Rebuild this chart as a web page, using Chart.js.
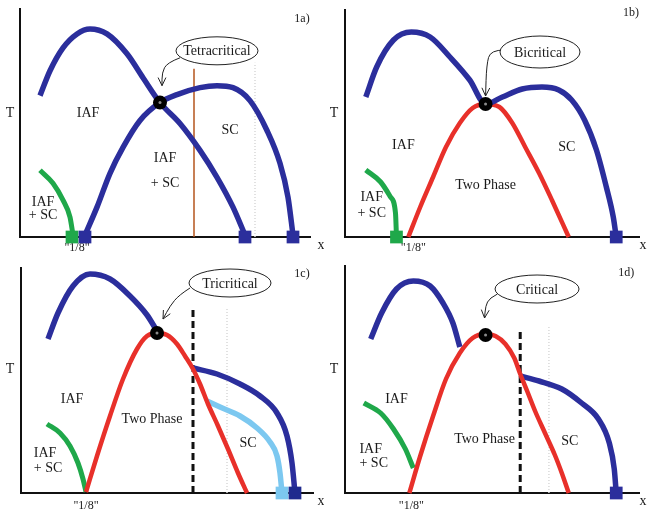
<!DOCTYPE html>
<html>
<head>
<meta charset="utf-8">
<script src="https://cdn.jsdelivr.net/npm/chart.js@4.4.0/dist/chart.umd.min.js"></script>
<style>
body { margin: 0; background: #fff; width: 648px; height: 513px; position: relative; overflow: hidden; }
canvas { position: absolute; }
</style>
</head>
<body>
<canvas id="p1a" width="324" height="256" style="left:0;top:0"></canvas>
<canvas id="p1b" width="324" height="256" style="left:324px;top:0"></canvas>
<canvas id="p1c" width="324" height="257" style="left:0;top:256px"></canvas>
<canvas id="p1d" width="324" height="257" style="left:324px;top:256px"></canvas>
<script>
// schematic phase boundaries, [x, T] pairs (arbitrary units, origin at the axes)

// 1a) tetracritical
const a_iaf = [[20,142],[30,167],[43,190],[57,204],[70,209],[87,204],[107,184],[123,160],[140,135],[160,114],[180,87],[197,60],[213,30],[225,2]];
const a_sc = [[65,2],[77,30],[90,64],[103,90],[120,117],[140,135],[157,143],[180,150],[197,152],[213,150],[230,137],[247,107],[260,74],[268,40],[273,2]];
const a_green = [[20,67],[33,54],[43,37],[50,20],[53,2]];
const a_endsBlue = [[65,0],[225,0],[273,0]];
const a_endsGreen = [[52,0]];
const a_point = [[140,135]];
const a_cut = [[174,0],[174,169]];
const a_faint = [[235,0],[235,175]];

// 1b) bicritical
const b_blue = [[21,140],[32,170],[49,197],[67,205],[86,200],[106,180],[126,157],[142,133],[159,140],[179,148],[199,150],[216,147],[229,137],[242,117],[254,87],[264,50],[271,20],[274,0]];
const b_red = [[64,0],[76,30],[89,60],[102,90],[116,114],[129,129],[142,133],[156,130],[169,114],[182,90],[196,64],[209,37],[226,0]];
const b_green = [[21,67],[36,55],[46,40],[51,24],[52,0]];
const b_endsBlue = [[274,0]];
const b_endsGreen = [[52,0]];
const b_point = [[142,133]];

// 1c) tricritical
const c_blue = [[27,154],[37,180],[52,207],[69,219],[89,214],[109,197],[126,178],[136,162]];
const c_red = [[65,1],[76,37],[89,77],[102,114],[116,144],[126,157],[136,160],[146,158],[156,149],[164,137],[172,124],[179,109],[187,89],[197,67],[207,44],[217,20],[226,0]];
const c_sc = [[172,125],[196,119],[219,109],[239,97],[256,80],[266,57],[271,30],[274,0]];
const c_light = [[186,92],[199,86],[219,77],[236,65],[249,51],[256,37],[259,20],[261,0]];
const c_green = [[26,69],[39,60],[49,47],[57,30],[62,14],[65,1]];
const c_endsBlue = [[274,0]];
const c_endsLight = [[261,0]];
const c_point = [[136,160]];
const c_cut = [[172,0],[172,185]];
const c_faint = [[206,0],[206,185]];

// 1d) critical
const d_blue = [[26,154],[37,180],[52,204],[69,212],[86,207],[99,190],[109,170],[116,146]];
const d_red = [[65,0],[76,37],[89,77],[102,114],[116,140],[129,155],[142,159],[152,157],[162,149],[171,135],[177,119],[184,102],[192,82],[202,60],[212,38],[219,20],[226,0]];
const d_sc = [[177,117],[196,112],[219,104],[239,90],[256,74],[267,50],[272,24],[274,0]];
const d_green = [[19,90],[36,80],[49,64],[61,44],[69,25]];
const d_endsBlue = [[274,0]];
const d_point = [[142,158]];
const d_cut = [[177,0],[177,164]];
const d_faint = [[206,0],[206,167]];

const BLUE = '#2b2e9c', RED = '#e8302a', GREEN = '#1fa84a', LIGHT = '#7cc8f0', INK = '#1a1a1a';
const SERIF = '"Liberation Serif", "DejaVu Serif", serif';

const pts = arr => arr.map(([x, y]) => ({x, y}));

function line(data, color, width, extra) {
    return Object.assign({
        data: pts(data), showLine: true, borderColor: color, borderWidth: width,
        pointRadius: 0, cubicInterpolationMode: 'monotone', fill: false,
        borderCapStyle: 'butt', borderJoinStyle: 'round', clip: false
    }, extra || {});
}
function straight(data, color, width, dash) {
    return line(data, color, width, {cubicInterpolationMode: 'default', tension: 0, borderDash: dash || []});
}
function marks(data, color, style, r) {
    return {data: pts(data), showLine: false, pointStyle: style, pointRadius: r,
        backgroundColor: color, borderColor: color, borderWidth: 0, clip: false};
}
function dot(data) {
    return [marks(data, '#8a8a8a', 'circle', 1.5), marks(data, '#000', 'circle', 7)];
}

function overlay(p) {
    return {
        id: 'overlay',
        beforeDatasetsDraw(chart) {
            const {ctx, scales: {x, y}} = chart;
            ctx.save();
            ctx.fillStyle = INK;
            ctx.textAlign = 'center';
            ctx.textBaseline = 'middle';
            p.labels.forEach(l => {
                ctx.font = (l.size || 14) + 'px ' + SERIF;
                ctx.fillText(l.t, x.getPixelForValue(l.x), y.getPixelForValue(l.y));
            });
            ctx.restore();
        },
        afterDatasetsDraw(chart) {
            const {ctx, scales: {x, y}} = chart;
            const c = p.callout;
            const tp = c.tail.map(([a, b]) => [x.getPixelForValue(a), y.getPixelForValue(b)]);
            ctx.save();
            ctx.strokeStyle = '#222';
            ctx.lineWidth = 1;
            // curved tail
            ctx.beginPath();
            ctx.moveTo(tp[0][0], tp[0][1]);
            for (let i = 1; i < tp.length - 1; i++) {
                const mx = (tp[i][0] + tp[i + 1][0]) / 2, my = (tp[i][1] + tp[i + 1][1]) / 2;
                ctx.quadraticCurveTo(tp[i][0], tp[i][1], mx, my);
            }
            const tip = tp[tp.length - 1], prev = tp[tp.length - 2];
            ctx.lineTo(tip[0], tip[1]);
            ctx.stroke();
            // open arrow head
            const ang = Math.atan2(tip[1] - prev[1], tip[0] - prev[0]);
            ctx.beginPath();
            [-0.45, 0.45].forEach(d => {
                ctx.moveTo(tip[0], tip[1]);
                ctx.lineTo(tip[0] - 9 * Math.cos(ang + d), tip[1] - 9 * Math.sin(ang + d));
            });
            ctx.stroke();
            // bubble
            const cx = x.getPixelForValue(c.at[0]), cy = y.getPixelForValue(c.at[1]);
            ctx.beginPath();
            ctx.ellipse(cx, cy, c.rx, c.ry, 0, 0, Math.PI * 2);
            ctx.fillStyle = '#fff';
            ctx.fill();
            ctx.stroke();
            ctx.fillStyle = INK;
            ctx.font = '14px ' + SERIF;
            ctx.textAlign = 'center';
            ctx.textBaseline = 'middle';
            ctx.fillText(c.text, cx, cy + 1);
            ctx.restore();
        }
    };
}

function axis(max, fit) {
    return {
        type: 'linear', min: 0, max: max,
        grid: {display: false, drawTicks: false},
        ticks: {display: false},
        border: {display: true, color: '#111', width: 2},
        afterFit: fit
    };
}

function panel(id, p) {
    new Chart(document.getElementById(id), {
        type: 'scatter',
        data: {datasets: p.datasets},
        options: {
            responsive: false,
            animation: false,
            events: [],
            layout: {padding: p.pad},
            plugins: {legend: {display: false}, tooltip: {enabled: false}},
            scales: {
                x: axis(p.xMax, s => { s.height = 0; }),
                y: axis(p.yMax, s => { s.width = 0; })
            }
        },
        plugins: [overlay(p)]
    });
}

panel('p1a', {
    pad: {left: 20, top: 8, right: 14, bottom: 19}, xMax: 290, yMax: 229,
    datasets: [
        ...dot(a_point),
        marks(a_endsBlue, BLUE, 'rect', 9),
        marks(a_endsGreen, GREEN, 'rect', 9),
        line(a_iaf, BLUE, 5.5),
        line(a_sc, BLUE, 5.5),
        line(a_green, GREEN, 5),
        straight(a_cut, '#b5551d', 1.5),
        straight(a_faint, '#d8d8d8', 1.5, [1, 2])
    ],
    labels: [
        {t: 'T', x: -10, y: 124}, {t: 'x', x: 301, y: -8}, {t: '1a)', x: 282, y: 219, size: 12},
        {t: 'IAF', x: 68, y: 124}, {t: 'SC', x: 210, y: 107},
        {t: 'IAF', x: 145, y: 79}, {t: '+ SC', x: 145, y: 54},
        {t: 'IAF', x: 23, y: 35}, {t: '+ SC', x: 23, y: 22},
        {t: '"1/8"', x: 57, y: -11, size: 12}
    ],
    callout: {text: 'Tetracritical', at: [197, 187], rx: 41, ry: 14,
        tail: [[160, 180], [147, 175], [142, 165], [142, 152]]}
});

panel('p1b', {
    pad: {left: 21, top: 10, right: 6, bottom: 19}, xMax: 297, yMax: 227,
    datasets: [
        ...dot(b_point),
        marks(b_endsBlue, BLUE, 'rect', 9),
        marks(b_endsGreen, GREEN, 'rect', 9),
        line(b_blue, BLUE, 5.5),
        line(b_red, RED, 4.5),
        line(b_green, GREEN, 5)
    ],
    labels: [
        {t: 'T', x: -11, y: 124}, {t: 'x', x: 301, y: -8}, {t: '1b)', x: 289, y: 224, size: 12},
        {t: 'IAF', x: 59, y: 92}, {t: 'SC', x: 224, y: 90}, {t: 'Two Phase', x: 142, y: 52},
        {t: 'IAF', x: 27, y: 40}, {t: '+ SC', x: 27, y: 24},
        {t: '"1/8"', x: 69, y: -11, size: 12}
    ],
    callout: {text: 'Bicritical', at: [197, 185], rx: 40, ry: 16,
        tail: [[161, 187], [147, 187], [143, 172], [142, 141]]}
});

panel('p1c', {
    pad: {left: 21, top: 12, right: 11, bottom: 20}, xMax: 292, yMax: 225,
    datasets: [
        ...dot(c_point),
        marks(c_endsBlue, '#1f2a8e', 'rect', 9),
        marks(c_endsLight, LIGHT, 'rect', 9),
        line(c_blue, BLUE, 5.5),
        line(c_red, RED, 4.5),
        line(c_sc, BLUE, 5.5),
        line(c_light, LIGHT, 5.5),
        line(c_green, GREEN, 5),
        straight(c_cut, '#111', 3, [7, 4]),
        straight(c_faint, '#d8d8d8', 1.5, [1, 2])
    ],
    labels: [
        {t: 'T', x: -11, y: 124}, {t: 'x', x: 300, y: -8}, {t: '1c)', x: 281, y: 219, size: 12},
        {t: 'IAF', x: 51, y: 94}, {t: 'Two Phase', x: 131, y: 74}, {t: 'SC', x: 227, y: 50},
        {t: 'IAF', x: 24, y: 40}, {t: '+ SC', x: 27, y: 25},
        {t: '"1/8"', x: 65, y: -13, size: 12}
    ],
    callout: {text: 'Tricritical', at: [209, 210], rx: 41, ry: 14,
        tail: [[169, 205], [158, 198], [149, 187], [142, 174]]}
});

panel('p1d', {
    pad: {left: 21, top: 10, right: 6, bottom: 20}, xMax: 297, yMax: 227,
    datasets: [
        ...dot(d_point),
        marks(d_endsBlue, BLUE, 'rect', 9),
        line(d_blue, BLUE, 5.5),
        line(d_red, RED, 4.5),
        line(d_sc, BLUE, 5.5),
        line(d_green, GREEN, 5),
        straight(d_cut, '#111', 3, [7, 4]),
        straight(d_faint, '#d8d8d8', 1.5, [1, 2])
    ],
    labels: [
        {t: 'T', x: -11, y: 124}, {t: 'x', x: 301, y: -8}, {t: '1d)', x: 284, y: 220, size: 12},
        {t: 'IAF', x: 52, y: 94}, {t: 'Two Phase', x: 141, y: 54}, {t: 'SC', x: 227, y: 52},
        {t: 'IAF', x: 26, y: 44}, {t: '+ SC', x: 29, y: 30},
        {t: '"1/8"', x: 67, y: -13, size: 12}
    ],
    callout: {text: 'Critical', at: [194, 204], rx: 42, ry: 14,
        tail: [[154, 199], [146, 195], [142, 187], [141, 175]]}
});
</script>
</body>
</html>
